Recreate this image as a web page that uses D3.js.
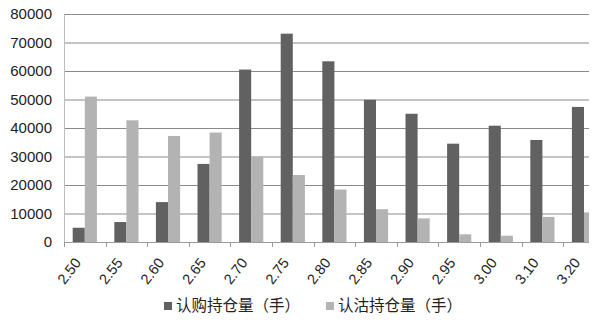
<!DOCTYPE html>
<html>
<head>
<meta charset="utf-8">
<script src="https://cdn.jsdelivr.net/npm/d3@7"></script>
<style>
  body { margin: 0; background: #fff; }
</style>
</head>
<body>
<div id="chart"></div>
<script>
const strikes = ['2.50', '2.55', '2.60', '2.65', '2.70', '2.75', '2.80', '2.85', '2.90', '2.95', '3.00', '3.10', '3.20'];
const callOI = [5000, 7000, 14000, 27400, 60500, 73100, 63400, 49900, 45000, 34500, 40800, 35800, 47400];
const putOI = [51000, 42700, 37200, 38400, 29900, 23500, 18400, 11500, 8300, 2700, 2200, 8800, 10400];
const seriesNames = ['认购持仓量（手）', '认沽持仓量（手）'];
const yTicks = [0, 10000, 20000, 30000, 40000, 50000, 60000, 70000, 80000];

const width = 600;
const height = 325;
const font = '"Noto Sans CJK SC", "DejaVu Sans", sans-serif';
const numFont = '"Liberation Sans", Arial, sans-serif';
const colors = ['#616161', '#b3b3b3'];

// plot spans past the right edge, so clip it like the cropped original
const plot = {left: 64, top: 14, bottom: 242, clipRight: 589};
const bandWidth = 41.6;

const svg = d3.select('#chart')
  .append('svg')
  .attr('width', width)
  .attr('height', height)
  .style('font-family', font);

const x = d3.scaleBand()
  .domain(strikes)
  .range([plot.left, plot.left + bandWidth * strikes.length])
  .paddingInner(0)
  .paddingOuter(0);

const y = d3.scaleLinear()
  .domain([0, 80000])
  .range([plot.bottom, plot.top]);

svg.append('clipPath')
  .attr('id', 'plotclip')
  .append('rect')
  .attr('x', plot.left)
  .attr('y', 0)
  .attr('width', plot.clipRight - plot.left)
  .attr('height', height);

// gridlines
svg.append('g')
  .selectAll('line')
  .data(yTicks.slice(1))
  .join('line')
  .attr('x1', plot.left)
  .attr('x2', plot.clipRight)
  .attr('y1', (d) => y(d) + 0.5)
  .attr('y2', (d) => y(d) + 0.5)
  .attr('stroke', '#8a8a8a')
  .attr('stroke-width', 1.2);

// y axis labels
const yAxis = svg.append('g')
  .attr('transform', `translate(${plot.left},0)`)
  .call(d3.axisLeft(y).tickValues(yTicks).tickSize(0).tickPadding(12).tickFormat(d3.format('d')));
yAxis.select('.domain').attr('stroke', '#bdbdbd');
yAxis.selectAll('.tick text')
  .attr('font-family', numFont)
  .attr('font-size', 15)
  .attr('fill', '#222');

// bars
const sub = d3.scaleBand()
  .domain([0, 1])
  .range([0, x.bandwidth()])
  .paddingInner(0)
  .paddingOuter(0.72);

const bars = svg.append('g').attr('clip-path', 'url(#plotclip)');
[callOI, putOI].forEach((vals, i) => {
  bars.append('g')
    .selectAll('rect')
    .data(vals)
    .join('rect')
    .attr('x', (d, j) => x(strikes[j]) + sub(i))
    .attr('y', (d) => y(d))
    .attr('width', sub.bandwidth())
    .attr('height', (d) => y(0) - y(d))
    .attr('fill', colors[i]);
});

// x axis
const xAxis = svg.append('g')
  .attr('clip-path', 'url(#plotclip)')
  .attr('transform', `translate(0,${plot.bottom})`)
  .call(d3.axisBottom(x).tickSize(0).tickFormat(''));
xAxis.select('.domain').attr('stroke', '#9a9a9a');

svg.append('g')
  .selectAll('line')
  .data(strikes.map((s) => x(s)).concat([plot.left]))
  .join('line')
  .attr('x1', (d) => Math.round(d) + 0.5)
  .attr('x2', (d) => Math.round(d) + 0.5)
  .attr('y1', plot.bottom)
  .attr('y2', plot.bottom + 5)
  .attr('stroke', '#9a9a9a');

svg.append('g')
  .selectAll('text')
  .data(strikes)
  .join('text')
  .attr('transform', (d) => `translate(${x(d) + x.bandwidth() / 2 - 3},${plot.bottom + 21}) rotate(-52)`)
  .attr('text-anchor', 'end')
  .attr('font-family', numFont)
  .attr('font-size', 14.5)
  .attr('fill', '#222')
  .text((d) => d);

// legend
const legendX = [164, 326];
const legend = svg.append('g');
seriesNames.forEach((name, i) => {
  legend.append('rect')
    .attr('x', legendX[i])
    .attr('y', 302)
    .attr('width', 8)
    .attr('height', 8)
    .attr('fill', colors[i]);
  legend.append('text')
    .attr('x', legendX[i] + 12)
    .attr('y', 311)
    .attr('font-size', 15.5)
    .attr('fill', '#222')
    .text(name);
});
</script>
</body>
</html>
